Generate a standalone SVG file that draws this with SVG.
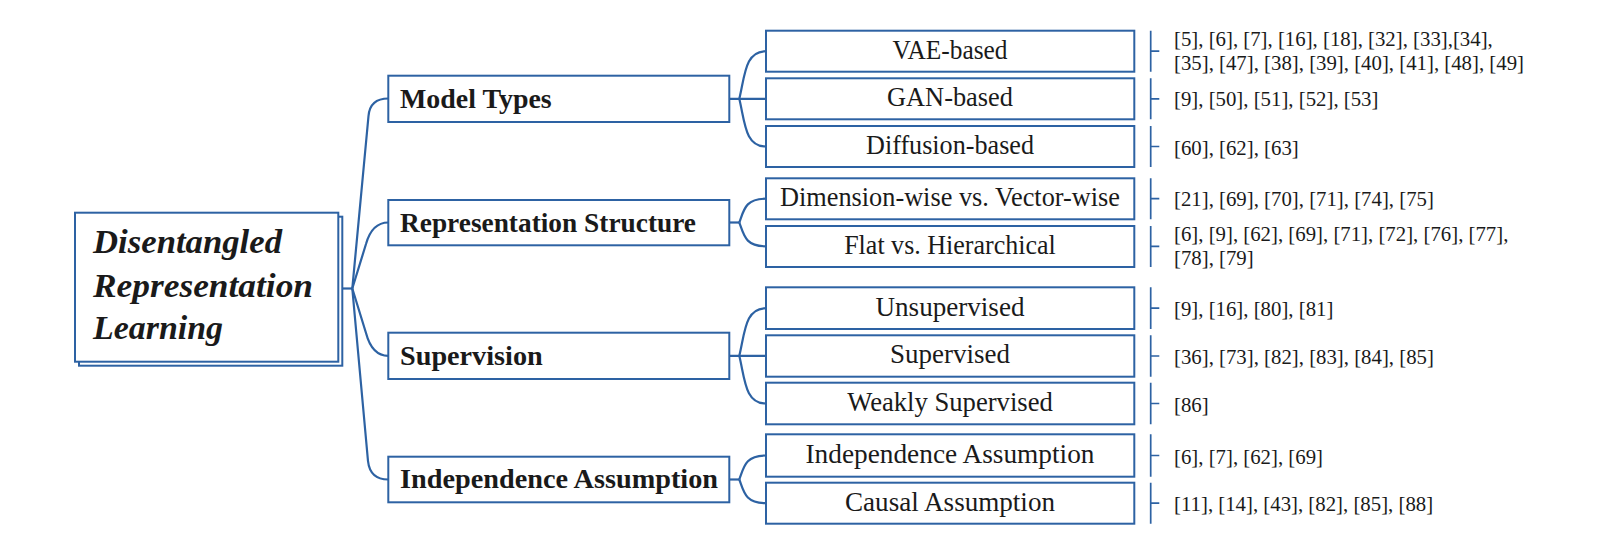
<svg xmlns="http://www.w3.org/2000/svg" width="1604" height="558" viewBox="0 0 1604 558">
<style>
.bg{fill:#ffffff}
.box{fill:#ffffff;stroke:#2d62a3;stroke-width:2}
.con{fill:none;stroke:#2d62a3;stroke-width:2.2;stroke-linejoin:round}
.brk{fill:none;stroke:#2d62a3;stroke-width:1.7}
.root{font-family:"Liberation Serif","Times New Roman",serif;font-weight:bold;font-style:italic;font-size:34px;fill:#1a1a1a}
.l1{font-family:"Liberation Serif","Times New Roman",serif;font-weight:bold;font-size:27.5px;fill:#1a1a1a}
.l2{font-family:"Liberation Serif","Times New Roman",serif;font-size:26.5px;fill:#1a1a1a;text-anchor:middle}
.ref{font-family:"Liberation Serif","Times New Roman",serif;font-size:20.8px;fill:#1a1a1a}
</style>
<rect class="bg" x="0" y="0" width="1604" height="558"/>

<g id="connectors">
  <!-- root to level 1 -->
  <path class="con" d="M338.3,288.5 L352.3,288.5"/>
  <path class="con" d="M352.3,288.5 L368.5,116 Q370,98.5 388.3,98.5"/>
  <path class="con" d="M352.3,288.5 L366,244 Q372,222.5 388.3,222.5"/>
  <path class="con" d="M352.3,288.5 L366,333 Q372,355.8 388.3,355.8"/>
  <path class="con" d="M352.3,288.5 L368,461 Q370,479.5 388.3,479.5"/>
  <!-- Model Types -->
  <path class="con" d="M729.3,98.8 L766,98.8"/>
  <path class="con" d="M739.3,98.8 C745,75 745,51.2 766,51.2"/>
  <path class="con" d="M739.3,98.8 C745,122.6 745,146.5 766,146.5"/>
  <!-- Representation Structure -->
  <path class="con" d="M729.3,222.5 L739.3,222.5"/>
  <path class="con" d="M739.3,222.5 C744,210 745,198.7 766,198.7"/>
  <path class="con" d="M739.3,222.5 C744,235 745,246.3 766,246.3"/>
  <!-- Supervision -->
  <path class="con" d="M729.3,355.8 L766,355.8"/>
  <path class="con" d="M739.3,355.8 C745,332 745,308.2 766,308.2"/>
  <path class="con" d="M739.3,355.8 C745,379.6 745,403.5 766,403.5"/>
  <!-- Independence Assumption -->
  <path class="con" d="M729.3,479.5 L739.3,479.5"/>
  <path class="con" d="M739.3,479.5 C744,467 745,455.5 766,455.5"/>
  <path class="con" d="M739.3,479.5 C744,492 745,503.2 766,503.2"/>
</g>

<g id="root">
  <rect class="box" x="79" y="216.7" width="263.3" height="149"/>
  <rect class="box" x="75" y="212.7" width="263.3" height="149"/>
  <text class="root" x="93" y="253.3" textLength="189" lengthAdjust="spacingAndGlyphs">Disentangled</text>
  <text class="root" x="93" y="297.3" textLength="220" lengthAdjust="spacingAndGlyphs">Representation</text>
  <text class="root" x="93" y="339.3" textLength="130" lengthAdjust="spacingAndGlyphs">Learning</text>
</g>

<g id="model-types">
  <rect class="box" x="388.3" y="75.7" width="341" height="46.3"/>
  <text class="l1" x="400" y="108.3" textLength="151.7" lengthAdjust="spacingAndGlyphs">Model Types</text>
</g>
<g id="representation-structure">
  <rect class="box" x="388.3" y="200" width="341" height="45.3"/>
  <text class="l1" x="400" y="231.7" textLength="296" lengthAdjust="spacingAndGlyphs">Representation Structure</text>
</g>
<g id="supervision">
  <rect class="box" x="388.3" y="332.7" width="341" height="46.3"/>
  <text class="l1" x="400" y="364.5" textLength="142.7" lengthAdjust="spacingAndGlyphs">Supervision</text>
</g>
<g id="independence-assumption">
  <rect class="box" x="388.3" y="456.7" width="341" height="45.6"/>
  <text class="l1" x="400" y="488.3" textLength="318" lengthAdjust="spacingAndGlyphs">Independence Assumption</text>
</g>

<g id="vae-based">
  <rect class="box" x="766" y="30.7" width="368.3" height="41"/>
  <text class="l2" x="950" y="58.5" textLength="115" lengthAdjust="spacingAndGlyphs">VAE-based</text>
  <path class="brk" d="M1150.7,30.7 V71.7 M1150.7,51.2 H1159.3"/>
  <text class="ref" x="1174" y="45.5">[5], [6], [7], [16], [18], [32], [33],[34],</text>
  <text class="ref" x="1174" y="70">[35], [47], [38], [39], [40], [41], [48], [49]</text>
</g>
<g id="gan-based">
  <rect class="box" x="766" y="78.3" width="368.3" height="41"/>
  <text class="l2" x="950" y="106.3" textLength="126" lengthAdjust="spacingAndGlyphs">GAN-based</text>
  <path class="brk" d="M1150.7,78.3 V119.3 M1150.7,98.8 H1159.3"/>
  <text class="ref" x="1174" y="106.3">[9], [50], [51], [52], [53]</text>
</g>
<g id="diffusion-based">
  <rect class="box" x="766" y="126" width="368.3" height="41"/>
  <text class="l2" x="950" y="154" textLength="168" lengthAdjust="spacingAndGlyphs">Diffusion-based</text>
  <path class="brk" d="M1150.7,126 V167 M1150.7,146.5 H1159.3"/>
  <text class="ref" x="1174" y="154.5">[60], [62], [63]</text>
</g>
<g id="dimension-vector">
  <rect class="box" x="766" y="178.3" width="368.3" height="41"/>
  <text class="l2" x="950" y="206.2" textLength="340" lengthAdjust="spacingAndGlyphs">Dimension-wise vs. Vector-wise</text>
  <path class="brk" d="M1150.7,178.3 V219.3 M1150.7,198.7 H1159.3"/>
  <text class="ref" x="1174" y="205.8">[21], [69], [70], [71], [74], [75]</text>
</g>
<g id="flat-hierarchical">
  <rect class="box" x="766" y="226" width="368.3" height="41"/>
  <text class="l2" x="950" y="253.8" textLength="211.7" lengthAdjust="spacingAndGlyphs">Flat vs. Hierarchical</text>
  <path class="brk" d="M1150.7,226 V267 M1150.7,246.3 H1159.3"/>
  <text class="ref" x="1174" y="240.6">[6], [9], [62], [69], [71], [72], [76], [77],</text>
  <text class="ref" x="1174" y="265.1">[78], [79]</text>
</g>
<g id="unsupervised">
  <rect class="box" x="766" y="287.3" width="368.3" height="41.7"/>
  <text class="l2" x="950" y="315.7" textLength="149" lengthAdjust="spacingAndGlyphs">Unsupervised</text>
  <path class="brk" d="M1150.7,287.3 V329 M1150.7,308.2 H1159.3"/>
  <text class="ref" x="1174" y="316.3">[9], [16], [80], [81]</text>
</g>
<g id="supervised">
  <rect class="box" x="766" y="335.3" width="368.3" height="41.4"/>
  <text class="l2" x="950" y="363.4" textLength="120" lengthAdjust="spacingAndGlyphs">Supervised</text>
  <path class="brk" d="M1150.7,335.3 V376.7 M1150.7,356 H1159.3"/>
  <text class="ref" x="1174" y="364.2">[36], [73], [82], [83], [84], [85]</text>
</g>
<g id="weakly-supervised">
  <rect class="box" x="766" y="382.7" width="368.3" height="41.6"/>
  <text class="l2" x="950" y="411.1" textLength="205.7" lengthAdjust="spacingAndGlyphs">Weakly Supervised</text>
  <path class="brk" d="M1150.7,382.7 V424.3 M1150.7,403.5 H1159.3"/>
  <text class="ref" x="1174" y="411.7">[86]</text>
</g>
<g id="independence">
  <rect class="box" x="766" y="434.3" width="368.3" height="42.4"/>
  <text class="l2" x="950" y="463.2" textLength="289" lengthAdjust="spacingAndGlyphs">Independence Assumption</text>
  <path class="brk" d="M1150.7,434.3 V476.7 M1150.7,455.5 H1159.3"/>
  <text class="ref" x="1174" y="464.2">[6], [7], [62], [69]</text>
</g>
<g id="causal">
  <rect class="box" x="766" y="482.7" width="368.3" height="41"/>
  <text class="l2" x="950" y="510.9" textLength="210" lengthAdjust="spacingAndGlyphs">Causal Assumption</text>
  <path class="brk" d="M1150.7,482.7 V523.7 M1150.7,503.2 H1159.3"/>
  <text class="ref" x="1174" y="511.4">[11], [14], [43], [82], [85], [88]</text>
</g>
</svg>
